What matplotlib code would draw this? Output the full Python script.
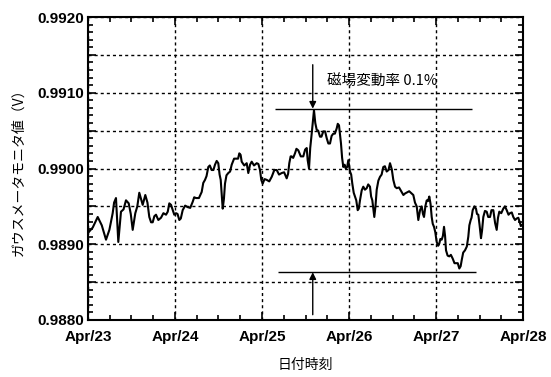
import numpy as np
import matplotlib
matplotlib.use("Agg")
import matplotlib.pyplot as plt
from matplotlib.ticker import MultipleLocator, FuncFormatter

horas = [0.0, 1.3, 2.68, 3.8, 4.97, 5.9, 6.81, 7.2, 7.72, 8.36, 9.10, 9.8,
         10.48, 11.23, 11.8, 12.33, 13.05, 13.6, 14.15, 15.09, 15.81, 16.4,
         16.91, 17.4, 17.85, 18.3, 18.76, 19.4, 20.14, 20.8, 21.52, 22.0,
         22.43, 22.9, 23.37, 23.8, 24.28, 24.7, 25.19, 25.6, 26.12, 26.8,
         27.50, 28.2, 28.88, 29.3, 29.79, 30.6, 31.36, 31.8, 32.28, 32.7,
         33.19, 33.6, 34.12, 34.6, 35.03, 35.5, 35.94, 36.3, 36.61, 37.16,
         37.5, 37.79, 38.2, 38.70, 39.2, 39.64, 40.3, 41.02, 41.4, 41.74,
         42.1, 42.40, 43.1, 43.78, 44.22, 44.7, 45.16, 45.8, 46.54, 47.0,
         47.45, 47.8, 48.19, 48.7, 49.30, 50.0, 50.68, 51.4, 52.06, 52.7,
         53.43, 54.1, 54.81, 55.2, 55.53, 55.9, 56.19, 56.6, 57.10, 57.5,
         58.01, 58.7, 59.39, 59.9, 60.33, 60.6, 60.97, 61.3, 61.71, 62.34,
         62.7, 63.09, 63.5, 64.00, 64.4, 64.91, 65.4, 65.85, 66.3, 66.76,
         67.2, 67.67, 68.1, 68.61, 68.9, 69.24, 69.79, 70.1, 70.43, 70.8,
         71.09, 71.5, 71.81, 72.28, 72.6, 72.91, 73.3, 73.66, 74.0, 74.40,
         74.7, 75.03, 75.5, 75.94, 76.4, 76.88, 77.3, 77.79, 78.1, 78.43,
         78.98, 79.3, 79.64, 80.1, 80.55, 81.0, 81.46, 81.9, 82.40, 82.9,
         83.31, 83.8, 84.22, 84.7, 85.16, 85.8, 86.54, 87.0, 87.45, 88.6,
         89.74, 90.2, 90.68, 91.12, 91.6, 92.06, 92.4, 92.69, 93.1, 93.44,
         93.8, 94.15, 94.5, 94.81, 95.1, 95.45, 95.8, 96.19, 96.6, 96.91,
         97.2, 97.57, 97.9, 98.21, 98.5, 98.76, 99.2, 99.67, 100.1, 100.61,
         101.1, 101.52, 102.0, 102.43, 102.8, 103.09, 103.5, 104.00, 104.5,
         104.91, 105.2, 105.57, 105.8, 106.12, 106.6, 107.03, 107.3, 107.67,
         108.0, 108.41, 108.7, 109.05, 109.5, 109.98, 110.4, 110.90, 111.3,
         111.81, 112.3, 112.74, 113.1, 113.46, 114.0, 114.56, 115.0, 115.50,
         116.0, 116.41, 116.9, 117.32, 117.8, 118.26, 118.7, 119.17, 119.4,
         119.64]
tensao = [0.98915, 0.98922, 0.98936, 0.98925, 0.98906, 0.98919, 0.98941,
          0.98955, 0.98961, 0.98903, 0.98943, 0.98946, 0.98958, 0.98954,
          0.98940, 0.98919, 0.98941, 0.98950, 0.98968, 0.98952, 0.98965,
          0.98955, 0.98936, 0.98929, 0.98929, 0.98937, 0.98939, 0.98932,
          0.98935, 0.98941, 0.98939, 0.98943, 0.98954, 0.98952, 0.98945,
          0.98939, 0.98941, 0.98940, 0.98932, 0.98934, 0.98945, 0.98951,
          0.98949, 0.98948, 0.98956, 0.98962, 0.98961, 0.98961, 0.98969,
          0.98981, 0.98985, 0.98990, 0.99002, 0.99004, 0.98998, 0.98998,
          0.99005, 0.99010, 0.99007, 0.98992, 0.98985, 0.98947, 0.98960,
          0.98980, 0.98991, 0.98994, 0.98996, 0.99005, 0.99013, 0.99013,
          0.99013, 0.99020, 0.99018, 0.99009, 0.99004, 0.99007, 0.98994,
          0.99005, 0.99009, 0.99004, 0.99007, 0.99006, 0.98998, 0.98985,
          0.98980, 0.98986, 0.98985, 0.98983, 0.98989, 0.98998, 0.98998,
          0.98992, 0.98994, 0.98995, 0.98987, 0.98993, 0.99007, 0.99016,
          0.99016, 0.99014, 0.99020, 0.99026, 0.99024, 0.99016, 0.99016,
          0.99025, 0.99027, 0.99011, 0.99000, 0.99027, 0.99046, 0.99077,
          0.99060, 0.99051, 0.99050, 0.99042, 0.99042, 0.99049, 0.99049,
          0.99040, 0.99033, 0.99033, 0.99043, 0.99046, 0.99046, 0.99053,
          0.99059, 0.99057, 0.99033, 0.99014, 0.99002, 0.99005, 0.99000,
          0.99002, 0.99011, 0.98996, 0.98992, 0.98980, 0.98968, 0.98963,
          0.98958, 0.98945, 0.98947, 0.98958, 0.98971, 0.98976, 0.98972,
          0.98974, 0.98979, 0.98976, 0.98963, 0.98958, 0.98936, 0.98950,
          0.98972, 0.98984, 0.98989, 0.98992, 0.99002, 0.99003, 0.98996,
          0.98998, 0.99007, 0.98999, 0.98985, 0.98976, 0.98974, 0.98975,
          0.98969, 0.98965, 0.98967, 0.98970, 0.98965, 0.98955, 0.98950,
          0.98932, 0.98945, 0.98950, 0.98940, 0.98936, 0.98951, 0.98958,
          0.98957, 0.98963, 0.98953, 0.98936, 0.98927, 0.98923, 0.98916,
          0.98903, 0.98898, 0.98901, 0.98907, 0.98906, 0.98911, 0.98923,
          0.98911, 0.98892, 0.98885, 0.98884, 0.98886, 0.98881, 0.98875,
          0.98875, 0.98875, 0.98868, 0.98871, 0.98879, 0.98889, 0.98892,
          0.98897, 0.98910, 0.98925, 0.98932, 0.98935, 0.98945, 0.98950,
          0.98947, 0.98940, 0.98939, 0.98926, 0.98908, 0.98918, 0.98936,
          0.98944, 0.98943, 0.98936, 0.98936, 0.98945, 0.98945, 0.98928,
          0.98919, 0.98935, 0.98943, 0.98941, 0.98947, 0.98950, 0.98945,
          0.98939, 0.98941, 0.98942, 0.98936, 0.98932, 0.98934, 0.98935,
          0.98928, 0.98924, 0.98925]

dias = ["Apr/23", "Apr/24", "Apr/25", "Apr/26", "Apr/27", "Apr/28"]

# linhas de referencia (maximo e minimo) e a seta
v_max = 0.99079
v_min = 0.98863
faixa_max = [51.6, 105.9]
faixa_min = [52.4, 107.0]
hora_seta = 62.0

jp = ["Noto Sans CJK JP", "DejaVu Sans"]

fig = plt.figure(figsize=(5.51, 3.77), dpi=100)
ax = fig.add_axes([0.1597, 0.1512, 0.7895, 0.8037])

ax.plot(horas, tensao, color="black", lw=1.5)

ax.hlines(v_max, faixa_max[0], faixa_max[1], color="black", lw=1.0)
ax.hlines(v_min, faixa_min[0], faixa_min[1], color="black", lw=1.0)
ax.annotate("", xy=(hora_seta, v_max), xytext=(hora_seta, 0.99137),
            arrowprops=dict(arrowstyle="-|>", color="black", lw=1.0,
                            mutation_scale=10, shrinkA=0, shrinkB=0))
ax.annotate("", xy=(hora_seta, v_min), xytext=(hora_seta, 0.98807),
            arrowprops=dict(arrowstyle="-|>", color="black", lw=1.0,
                            mutation_scale=10, shrinkA=0, shrinkB=0))
ax.text(65.9, 0.99114, "磁場変動率 0.1%", family=jp, fontsize=10.5,
        va="center", ha="left")

ax.set_xlim(0, 120)
ax.set_ylim(0.9880, 0.9920)

ax.xaxis.set_minor_locator(MultipleLocator(6))
ax.set_xticks(np.arange(0, 121, 24))
ax.set_xticklabels(dias)

ax.yaxis.set_major_locator(MultipleLocator(0.0005))
ax.yaxis.set_minor_locator(MultipleLocator(0.0001))
ax.yaxis.set_major_formatter(FuncFormatter(
    lambda v, p: "%.4f" % v if round(v * 10000) % 10 == 0 else ""))

ax.grid(True, which="major", color="black", lw=1.0, linestyle=(0, (2.2, 2.2)))

ax.tick_params(which="both", direction="in", top=True, right=True,
               width=1.2, colors="black")
ax.tick_params(which="major", length=6)
ax.tick_params(which="minor", length=3.5)
ax.tick_params(axis="x", pad=7)
ax.tick_params(axis="y", pad=3)
for lab in ax.get_xticklabels() + ax.get_yticklabels():
    lab.set_family("Liberation Sans")
    lab.set_fontweight("bold")
    lab.set_fontsize(11)

for s in ax.spines.values():
    s.set_linewidth(1.5)

ax.set_xlabel("日付時刻", family=jp, fontsize=10, labelpad=10)
ax.set_ylabel("ガウスメータモニタ値（V）", family=jp, fontsize=10, labelpad=8)

fig.savefig("out.png", dpi=100)
